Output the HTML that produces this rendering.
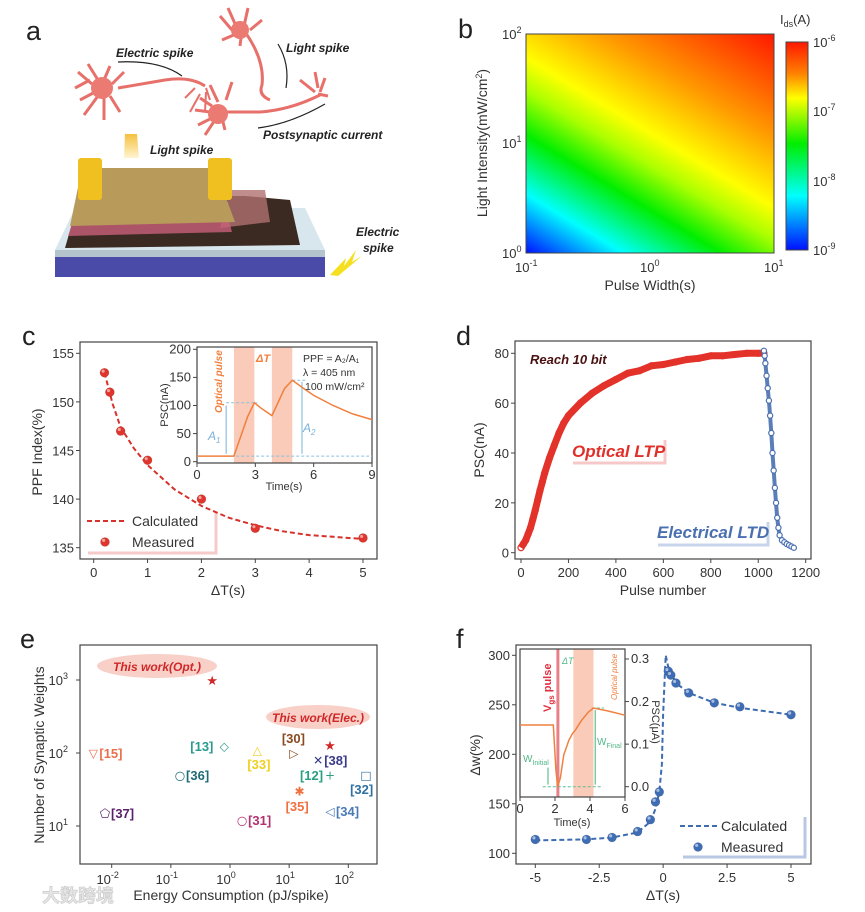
<!DOCTYPE html>
<html><head><meta charset="utf-8"><style>
html,body{margin:0;padding:0;background:#fff;}
svg{display:block;font-family:"Liberation Sans","DejaVu Sans","Noto Sans CJK SC",sans-serif;}
.tk{font-size:13px;fill:#333;}
.lab{font-size:14px;fill:#333;}
.pl{font-size:27px;fill:#222;}
</style></head><body>
<svg id="fig" width="865" height="912" viewBox="0 0 865 912" xmlns="http://www.w3.org/2000/svg">
<defs>
<linearGradient id="hm" gradientUnits="userSpaceOnUse" x1="526" y1="253" x2="689" y2="-17">
<stop offset="0" stop-color="#0010ff"/><stop offset="0.16" stop-color="#00ffff"/><stop offset="0.32" stop-color="#00ee00"/><stop offset="0.44" stop-color="#aaff00"/><stop offset="0.53" stop-color="#ffff00"/><stop offset="0.72" stop-color="#ff9a00"/><stop offset="1" stop-color="#ff1800"/>
</linearGradient>
<linearGradient id="cb" x1="0" y1="0" x2="0" y2="1">
<stop offset="0" stop-color="#ff1800"/><stop offset="0.15" stop-color="#ff8000"/><stop offset="0.27" stop-color="#ffff00"/><stop offset="0.49" stop-color="#00ee00"/><stop offset="0.74" stop-color="#00ffff"/><stop offset="1" stop-color="#0010ff"/>
</linearGradient>
<linearGradient id="beam" x1="0" y1="0" x2="0" y2="1"><stop offset="0" stop-color="#f5c040"/><stop offset="1" stop-color="#fff4d0"/></linearGradient>
</defs>

<g>
<text class="pl" x="26" y="40">a</text>
<g stroke="#e8706a" stroke-width="3" fill="none">
<path d="M75,88 L90,80 M78,72 L92,84 M88,64 L98,80 M110,66 L104,80 M124,72 L112,84 M80,100 L95,92 M84,115 L98,96 M104,120 L104,98 M120,112 L110,96 M118,88 L165,80 Q190,76 205,86"/>
<circle cx="102" cy="88" r="11" fill="#ea7a72" stroke="none"/>
<path d="M185,98 L195,88 M190,112 L200,94 M205,112 L206,92 M210,100 L206,88" stroke-width="2"/>
</g>
<g stroke="#e8706a" stroke-width="3" fill="none">
<path d="M220,16 L232,30 M228,8 L236,26 M248,8 L244,26 M262,20 L250,30 M222,40 L236,34 M240,46 L242,30 M245,32 Q265,60 262,85 Q258,95 270,100"/>
<circle cx="240" cy="30" r="9" fill="#ea7a72" stroke="none"/>
</g>
<g stroke="#e8706a" stroke-width="3" fill="none">
<path d="M195,110 L210,112 M200,98 L212,106 M210,85 L218,102 M232,82 L226,100 M198,125 L212,118 M205,135 L215,120 M225,130 L222,118 M222,112 L260,112 Q290,110 320,95 M300,80 L315,92 M315,72 L318,88 M325,78 L320,92 M328,96 L318,94"/>
<circle cx="218" cy="114" r="10" fill="#ea7a72" stroke="none"/>
</g>
<path d="M118,62 Q160,60 182,76" stroke="#222" stroke-width="1.2" fill="none"/>
<path d="M278,44 Q290,64 286,88" stroke="#222" stroke-width="1.2" fill="none"/>
<path d="M258,128 Q290,124 325,104" stroke="#222" stroke-width="1.2" fill="none"/>
<text x="116" y="57" font-size="12" font-style="italic" font-weight="bold" fill="#222">Electric spike</text>
<text x="286" y="52" font-size="12" font-style="italic" font-weight="bold" fill="#222">Light spike</text>
<text x="263" y="139" font-size="12" font-style="italic" font-weight="bold" fill="#222">Postsynaptic current</text>
<text x="150" y="154" font-size="12" font-style="italic" font-weight="bold" fill="#222">Light spike</text>
<text x="356" y="236" font-size="12" font-style="italic" font-weight="bold" fill="#222">Electric</text>
<text x="363" y="252" font-size="12" font-style="italic" font-weight="bold" fill="#222">spike</text>
<polygon points="125,134 137,134 139,158 124,158" fill="url(#beam)"/>
<polygon points="330,275 346,258 344,266 356,250 352,262 362,256 338,276" fill="#f5e020"/>
<polygon points="55,250 75,208 305,208 325,250" fill="#d8e6ee"/>
<rect x="55" y="250" width="270" height="8" fill="#b4c4cc"/>
<rect x="55" y="257" width="270" height="20" fill="#4a4aa8"/>
<polygon points="65,248 80,196 245,196 290,200 300,245" fill="#3a2a22"/>
<polygon points="220,228 230,190 265,190 270,222" fill="#b07070" opacity="0.8"/>
<polygon points="68,236 78,206 225,206 232,232" fill="#c9607a" opacity="0.8"/>
<polygon points="70,226 82,168 215,168 235,222" fill="#b89a5a"/>
<rect x="78" y="158" width="24" height="42" rx="3" fill="#f0c020"/>
<rect x="208" y="158" width="24" height="42" rx="3" fill="#f0c020"/>
</g>

<g>
<text class="pl" x="458" y="38">b</text>
<rect x="526" y="34" width="248" height="219" fill="url(#hm)" stroke="#444" stroke-width="1"/>
<rect x="786" y="42" width="22" height="208" fill="url(#cb)" stroke="#444" stroke-width="1"/>
<g class="tk" font-size="14">
<text x="813" y="47">10<tspan dy="-6" font-size="9">-6</tspan></text>
<text x="813" y="116">10<tspan dy="-6" font-size="9">-7</tspan></text>
<text x="813" y="186">10<tspan dy="-6" font-size="9">-8</tspan></text>
<text x="813" y="255">10<tspan dy="-6" font-size="9">-9</tspan></text>
<text x="780" y="24" font-size="13">I<tspan dy="3" font-size="9">ds</tspan><tspan dy="-3">(A)</tspan></text>
</g>
<g class="tk">
<text x="515" y="272">10<tspan dy="-6" font-size="9">-1</tspan></text>
<text x="640" y="272">10<tspan dy="-6" font-size="9">0</tspan></text>
<text x="764" y="272">10<tspan dy="-6" font-size="9">1</tspan></text>
<text x="502" y="258">10<tspan dy="-6" font-size="9">0</tspan></text>
<text x="502" y="148">10<tspan dy="-6" font-size="9">1</tspan></text>
<text x="502" y="39">10<tspan dy="-6" font-size="9">2</tspan></text>
</g>
<text class="lab" x="650" y="290" text-anchor="middle">Pulse Width(s)</text>
<text class="lab" transform="translate(487,143) rotate(-90)" text-anchor="middle">Light Intensity(mW/cm<tspan dy="-5" font-size="9">2</tspan><tspan dy="5">)</tspan></text>
</g>

<text class="pl" x="22" y="345">c</text>
<text class="pl" x="456" y="345">d</text>
<text class="pl" x="20" y="648">e</text>
<text class="pl" x="456" y="648">f</text>

<text x="42" y="902" font-size="18" font-weight="bold" fill="#e6e6e6" stroke="#c8c8c8" stroke-width="0.6" font-family="'Noto Sans CJK SC',sans-serif">大数跨境</text>

<g id="gc"></g>
<g id="gd"></g>
<g id="ge"></g>
<g id="gf"></g>
</svg>
<script>
// ---- Panel c data ----
const cDT = [0.2, 0.3, 0.5, 1, 2, 3, 5];
const cPPF = [153, 151, 147, 144, 140, 137, 136];
const cFitX = [0.2, 0.35, 0.5, 0.75, 1, 1.5, 2, 2.5, 3, 3.5, 4, 4.5, 5];
const cFitY = [153, 149.8, 147.4, 145.2, 143.5, 141, 139.3, 138.1, 137.3, 136.7, 136.3, 136.1, 135.9];
const cXTicks = [0, 1, 2, 3, 4, 5];
const cYTicks = [135, 140, 145, 150, 155];
const ciT = [0, 1.5, 1.9, 2.3, 2.6, 2.95, 3.3, 3.85, 4.1, 4.5, 4.9, 5.5, 6, 7, 8, 9];
const ciPSC = [10, 10, 10, 50, 80, 105, 95, 82, 100, 130, 145, 130, 118, 100, 85, 75];
const ciXTicks = [0, 3, 6, 9];
const ciYTicks = [0, 50, 100, 150, 200];
const ciPulses = [[1.9, 2.95], [3.85, 4.9]];
// ---- Panel d data ----
const dLtpN = [0, 10, 20, 30, 40, 50, 60, 70, 80, 90, 100, 120, 140, 160, 180, 200, 250, 300, 350, 400, 450, 500, 550, 600, 650, 700, 750, 800, 850, 900, 950, 1000, 1024];
const dLtpV = [2, 3.5, 5, 7.5, 10, 13.5, 17, 21, 25, 28.5, 32, 38, 43, 48, 52, 55, 60, 64, 67, 69.5, 72, 73, 75, 75.5, 76.5, 77.5, 78, 79, 79, 79.5, 80, 80, 80];
const dLtdN = [1024, 1027, 1030, 1035, 1040, 1045, 1050, 1055, 1060, 1065, 1070, 1075, 1080, 1085, 1090, 1100, 1110, 1120, 1130, 1140, 1150];
const dLtdV = [81, 79, 76, 71, 66, 61, 55, 48, 40, 33, 26, 20, 14, 10, 7, 5, 4.2, 3.5, 3, 2.5, 2];
const dXTicks = [0, 200, 400, 600, 800, 1000, 1200];
const dYTicks = [0, 20, 40, 60, 80];
// ---- Panel e data ----
const eLabels = ['[15]', '[13]', '[36]', '[37]', '[31]', '[33]', '[30]', '[38]', '[12]', '[32]', '[35]', '[34]'];
const eEnergy = [0.0049, 0.8, 0.143, 0.0077, 1.6, 2.9, 12, 31, 49, 200, 15, 49];
const eWeights = [100, 125, 50, 15, 12, 110, 100, 80, 50, 50, 30, 16];
const eMarkers = ['tri-down', 'diamond', 'circle', 'pentagon', 'circle', 'tri-up', 'tri-right', 'x', 'plus', 'square', 'asterisk', 'tri-left'];
const eColors = ['#e8704c', '#2a9a8f', '#1f6b78', '#5a1f6a', '#b03070', '#f0d020', '#8a4a20', '#3a3a8a', '#2aa080', '#3070a0', '#f07040', '#4a7ab8'];
const eThisEnergy = [0.5, 49];
const eThisWeights = [1000, 128];
const eXTicks = [-2, -1, 0, 1, 2];
const eYTicks = [1, 2, 3];
// ---- Panel f data ----
const fDT = [-5, -3, -2, -1, -0.5, -0.3, -0.15, 0.2, 0.3, 0.5, 1, 2, 3, 5];
const fDW = [114, 114, 116, 122, 134, 152, 162, 284, 280, 272, 262, 252, 248, 240];
const fFitX = [-5, -3, -2, -1, -0.5, -0.3, -0.15, -0.05, 0, 0.1, 0.2, 0.5, 1, 2, 3, 5];
const fFitY = [113, 114, 116, 121, 132, 145, 162, 190, 240, 300, 288, 272, 262, 252, 247, 240];
const fXTicks = [-5, -2.5, 0, 2.5, 5];
const fYTicks = [100, 150, 200, 250, 300];
const fiT = [0, 1.9, 2.05, 2.15, 2.3, 2.5, 2.8, 3.0, 3.2, 3.5, 3.9, 4.2, 5, 6];
const fiPSC = [0.145, 0.145, 0.04, 0.0, 0.02, 0.075, 0.11, 0.125, 0.135, 0.155, 0.175, 0.185, 0.178, 0.168];
const fiXTicks = [0, 2, 4, 6];
const fiYTicks = [0.0, 0.1, 0.2, 0.3];

const NS = 'http://www.w3.org/2000/svg';
function mk(parent, tag, attrs, txt) {
  const e = document.createElementNS(NS, tag);
  for (const k in attrs) e.setAttribute(k, attrs[k]);
  if (txt !== undefined) e.textContent = txt;
  parent.appendChild(e);
  return e;
}
function lin(d0, d1, r0, r1) { return v => r0 + (v - d0) * (r1 - r0) / (d1 - d0); }
function pts(xs, ys, sx, sy) { return xs.map((x, i) => sx(x).toFixed(1) + ',' + sy(ys[i]).toFixed(1)).join(' '); }

function frame(g, x0, y0, x1, y1, name) {
  const r = mk(g, 'rect', {x: x0, y: y0, width: x1 - x0, height: y1 - y0, fill: 'none', stroke: '#444', 'stroke-width': 1.2});
  
  
}
function xTicks(g, ticks, sx, yb, fmt, fs, name) {
  ticks.forEach(t => {
    const l = mk(g, 'line', {x1: sx(t), x2: sx(t), y1: yb, y2: yb + 4, stroke: '#444'});
    
    
    const tx = mk(g, 'text', {x: sx(t), y: yb + fs + 4, 'text-anchor': 'middle', class: 'tk', 'font-size': fs}, fmt(t));
    
    
  });
}
function yTicks(g, ticks, sy, xl, fmt, fs, name, right) {
  ticks.forEach(t => {
    const l = mk(g, 'line', {x1: xl, x2: right ? xl + 4 : xl - 4, y1: sy(t), y2: sy(t), stroke: '#444'});
    
    
    const tx = mk(g, 'text', {x: right ? xl + 6 : xl - 6, y: sy(t) + fs * 0.35, 'text-anchor': right ? 'start' : 'end', class: 'tk', 'font-size': fs}, fmt(t));
    
    
  });
}
function ball(g, cx, cy, r, fill, name) {
  const c = mk(g, 'circle', {cx: cx, cy: cy, r: r, fill: fill, stroke: 'rgba(0,0,0,0.15)', 'stroke-width': 0.6});
  
  
  const h = mk(g, 'circle', {cx: cx - r * 0.3, cy: cy - r * 0.35, r: r * 0.35, fill: 'rgba(255,255,255,0.55)'});
  
  
}

// ===== Panel c =====
(function () {
  const g = document.getElementById('gc');
  const sx = lin(0, 5, 93.7, 363), sy = lin(135, 155, 547.7, 353.3);
  frame(g, 80, 342, 377, 559, 'plot-frame-c');
  xTicks(g, cXTicks, sx, 559, t => t, 14, 'x-axis-c');
  yTicks(g, cYTicks, sy, 80, t => t, 14, 'y-axis-c');
  const yl = mk(g, 'text', {class: 'lab', transform: 'translate(42,452) rotate(-90)', 'text-anchor': 'middle', 'font-size': 15}, 'PPF Index(%)');
  
  
  const xl = mk(g, 'text', {class: 'lab', x: 228, y: 595, 'text-anchor': 'middle', 'font-size': 15}, 'ΔT(s)');
  
  
  const lb = mk(g, 'polyline', {points: '88,553 216,553 216,513', fill: 'none', stroke: '#f4caca', 'stroke-width': 3});
  
  
  const fit = mk(g, 'polyline', {points: pts(cFitX, cFitY, sx, sy), fill: 'none', stroke: '#d8302a', 'stroke-width': 2, 'stroke-dasharray': '5,3'});
  
  
  cDT.forEach((d, i) => ball(g, sx(d), sy(cPPF[i]), 4.5, '#e0352c', 'measured-point-c'));
  const ll = mk(g, 'line', {x1: 87, x2: 125, y1: 521, y2: 521, stroke: '#d8302a', 'stroke-width': 2, 'stroke-dasharray': '5,3'});
  
  
  const lt = mk(g, 'text', {x: 132, y: 526, class: 'lab', 'font-size': 14}, 'Calculated');
  
  
  ball(g, 105, 542, 4.5, '#e0352c', 'legend-marker-measured-c');
  const lt2 = mk(g, 'text', {x: 132, y: 547, class: 'lab', 'font-size': 14}, 'Measured');
  
  

  const ix = lin(0, 9, 197, 372), iy = lin(0, 200, 461.7, 349.3);
  const bg = mk(g, 'rect', {x: 197, y: 347, width: 175, height: 116, fill: '#fff'});
  
  
  ciPulses.forEach(p => {
    const r = mk(g, 'rect', {x: ix(p[0]), y: 347, width: ix(p[1]) - ix(p[0]), height: 116, fill: '#f9cbb8'});
    
    
  });
  frame(g, 197, 347, 372, 463, 'inset-frame-c');
  xTicks(g, ciXTicks, ix, 463, t => t, 12, 'inset-x-axis-c');
  yTicks(g, ciYTicks, iy, 197, t => t, 12, 'inset-y-axis-c');
  const dash1 = mk(g, 'polyline', {points: `${ix(1.5)},${iy(10)} ${ix(9)},${iy(10)}`, stroke: '#8ec0e0', 'stroke-dasharray': '3,2', fill: 'none'});
  
  
  const dash2 = mk(g, 'line', {x1: ix(1.5), x2: ix(3.1), y1: iy(105), y2: iy(105), stroke: '#8ec0e0', 'stroke-dasharray': '3,2'});
  
  
  const dash3 = mk(g, 'line', {x1: ix(4.9), x2: ix(5.6), y1: iy(145), y2: iy(145), stroke: '#8ec0e0', 'stroke-dasharray': '3,2'});
  
  
  const a1 = mk(g, 'line', {x1: ix(1.5), x2: ix(1.5), y1: iy(100), y2: iy(14), stroke: '#8ec0e0', 'stroke-width': 1.2});
  
  
  const a2 = mk(g, 'line', {x1: ix(5.4), x2: ix(5.4), y1: iy(142), y2: iy(14), stroke: '#8ec0e0', 'stroke-width': 1.2});
  
  
  const curve = mk(g, 'polyline', {points: pts(ciT, ciPSC, ix, iy), fill: 'none', stroke: '#f08040', 'stroke-width': 1.5});
  
  
  const t1 = mk(g, 'text', {x: 208, y: 440, 'font-size': 12, 'font-style': 'italic', fill: '#7ab0d8'});
  
  
  t1.innerHTML = 'A<tspan dy="3" font-size="8">1</tspan>';
  const t2 = mk(g, 'text', {x: 303, y: 432, 'font-size': 12, 'font-style': 'italic', fill: '#7ab0d8'});
  
  
  t2.innerHTML = 'A<tspan dy="3" font-size="8">2</tspan>';
  const op = mk(g, 'text', {transform: 'translate(222,413) rotate(-90)', 'font-size': 10, 'font-style': 'italic', 'font-weight': 'bold', fill: '#f08040'}, 'Optical pulse');
  
  
  const dt = mk(g, 'text', {x: 256, y: 362, 'font-size': 11, 'font-style': 'italic', 'font-weight': 'bold', fill: '#f08040'}, 'ΔT');
  
  
  const i1 = mk(g, 'text', {x: 303, y: 362, 'font-size': 10.5, fill: '#333'}, 'PPF = A₂/A₁');
  
  
  const i2 = mk(g, 'text', {x: 303, y: 376, 'font-size': 10.5, fill: '#333'}, 'λ = 405 nm');
  
  
  const i3 = mk(g, 'text', {x: 305, y: 390, 'font-size': 10.5, fill: '#333'}, '100 mW/cm²');
  
  
  const ixl = mk(g, 'text', {x: 284, y: 490, 'text-anchor': 'middle', 'font-size': 11, fill: '#333'}, 'Time(s)');
  
  
  const iyl = mk(g, 'text', {transform: 'translate(168,405) rotate(-90)', 'text-anchor': 'middle', 'font-size': 11, fill: '#333'}, 'PSC(nA)');
  
  
})();

// ===== Panel d =====
(function () {
  const g = document.getElementById('gd');
  const sx = lin(0, 1200, 521, 805.7), sy = lin(0, 80, 552.7, 353.3);
  frame(g, 515, 341, 811, 559, 'plot-frame-d');
  xTicks(g, dXTicks, sx, 559, t => t, 14, 'x-axis-d');
  yTicks(g, dYTicks, sy, 515, t => t, 14, 'y-axis-d');
  const yl = mk(g, 'text', {class: 'lab', transform: 'translate(484,450) rotate(-90)', 'text-anchor': 'middle', 'font-size': 15}, 'PSC(nA)');
  
  
  const xl = mk(g, 'text', {class: 'lab', x: 663, y: 595, 'text-anchor': 'middle', 'font-size': 15}, 'Pulse number');
  
  
  const b1 = mk(g, 'polyline', {points: '573,463 665,463 665,440', fill: 'none', stroke: '#f6c8c8', 'stroke-width': 3});
  
  
  const b2 = mk(g, 'polyline', {points: '658,545 768,545 768,522', fill: 'none', stroke: '#c8d4ec', 'stroke-width': 3});
  
  
  const band = mk(g, 'polyline', {points: pts(dLtpN, dLtpV, sx, sy), fill: 'none', stroke: '#e3322a', 'stroke-width': 7, 'stroke-linejoin': 'round'});
  
  
  dLtpN.forEach((n, i) => {
    const c = mk(g, 'circle', {cx: sx(n), cy: sy(dLtpV[i]), r: 3, fill: 'none', stroke: '#e3322a', 'stroke-width': 1.2});
    
    
  });
  const band2 = mk(g, 'polyline', {points: pts(dLtdN, dLtdV, sx, sy), fill: 'none', stroke: '#4a70b0', 'stroke-width': 4, 'stroke-linejoin': 'round', opacity: 0.9});
  
  
  dLtdN.forEach((n, i) => {
    const c = mk(g, 'circle', {cx: sx(n), cy: sy(dLtdV[i]), r: 2.6, fill: '#fff', stroke: '#4a70b0', 'stroke-width': 1.2});
    
    
  });
  const t1 = mk(g, 'text', {x: 530, y: 364, 'font-size': 13, 'font-style': 'italic', 'font-weight': 'bold', fill: '#4a1010'}, 'Reach 10 bit');
  
  
  const t2 = mk(g, 'text', {x: 572, y: 457, 'font-size': 17, 'font-style': 'italic', 'font-weight': 'bold', fill: '#e0302a'}, 'Optical LTP');
  
  
  const t3 = mk(g, 'text', {x: 657, y: 538, 'font-size': 17, 'font-style': 'italic', 'font-weight': 'bold', fill: '#4a70b0'}, 'Electrical LTD');
  
  
})();

// ===== Panel e =====
(function () {
  const g = document.getElementById('ge');
  const lx = lin(-2, 2, 111.7, 348.3), ly = lin(1, 3, 826, 680);
  const sx = v => lx(Math.log10(v)), sy = v => ly(Math.log10(v));
  frame(g, 80, 645, 377, 864, 'plot-frame-e');
  eXTicks.forEach(t => {
    const l = mk(g, 'line', {x1: lx(t), x2: lx(t), y1: 864, y2: 868, stroke: '#444'});
    
    
    const tx = mk(g, 'text', {x: lx(t) - 4, y: 884, 'text-anchor': 'middle', class: 'tk', 'font-size': 14});
    
    
    tx.innerHTML = '10<tspan dy="-6" font-size="9">' + t + '</tspan>';
  });
  eYTicks.forEach(t => {
    const l = mk(g, 'line', {x1: 80, x2: 76, y1: ly(t), y2: ly(t), stroke: '#444'});
    
    
    const tx = mk(g, 'text', {x: 68, y: ly(t) + 5, 'text-anchor': 'end', class: 'tk', 'font-size': 14});
    
    
    tx.innerHTML = '10<tspan dy="-6" font-size="9">' + t + '</tspan>';
  });
  const yl = mk(g, 'text', {class: 'lab', transform: 'translate(44,755) rotate(-90)', 'text-anchor': 'middle', 'font-size': 15}, 'Number of Synaptic Weights');
  
  
  const xl = mk(g, 'text', {class: 'lab', x: 231, y: 900, 'text-anchor': 'middle', 'font-size': 15}, 'Energy Consumption (pJ/spike)');
  
  
  const e1 = mk(g, 'ellipse', {cx: 157, cy: 666, rx: 60, ry: 12, fill: '#f8d0c8'});
  
  
  const e2 = mk(g, 'ellipse', {cx: 318, cy: 717, rx: 52, ry: 12, fill: '#f8d0c8'});
  
  
  const t1 = mk(g, 'text', {x: 157, y: 671, 'text-anchor': 'middle', 'font-size': 12, 'font-style': 'italic', 'font-weight': 'bold', fill: '#d02828'}, 'This work(Opt.)');
  
  
  const t2 = mk(g, 'text', {x: 318, y: 722, 'text-anchor': 'middle', 'font-size': 12, 'font-style': 'italic', 'font-weight': 'bold', fill: '#d02828'}, 'This work(Elec.)');
  
  
  eThisEnergy.forEach((v, i) => {
    const s = mk(g, 'text', {x: sx(v), y: sy(eThisWeights[i]) + 5, 'text-anchor': 'middle', 'font-size': 13, fill: '#d02828'}, '★');
    
    
  });
  const glyph = {'tri-down': '▽', 'diamond': '◇', 'circle': '○', 'pentagon': '⬠', 'tri-up': '△', 'tri-right': '▷', 'x': '✕', 'plus': '+', 'square': '□', 'asterisk': '✱', 'tri-left': '◁'};
  const lOff = {'[15]': [6, 5], '[13]': [-34, 5], '[36]': [6, 5], '[37]': [6, 5], '[31]': [6, 5], '[33]': [-10, 19], '[30]': [-12, -10], '[38]': [6, 5], '[12]': [-30, 5], '[32]': [-16, 19], '[35]': [-14, 20], '[34]': [6, 5]};
  eLabels.forEach((lab, i) => {
    const x = sx(eEnergy[i]), y = sy(eWeights[i]);
    const m = mk(g, 'text', {x: x, y: y + 4.5, 'text-anchor': 'middle', 'font-size': 12, fill: eColors[i], 'font-family': 'DejaVu Sans, sans-serif'}, glyph[eMarkers[i]]);
    
    
    const o = lOff[lab];
    const t = mk(g, 'text', {x: x + o[0], y: y + o[1], 'font-size': 13, 'font-weight': 'bold', fill: eColors[i]}, lab);
    
    
  });
})();

// ===== Panel f =====
(function () {
  const g = document.getElementById('gf');
  const sx = lin(-5, 5, 535.3, 791), sy = lin(100, 300, 853.3, 655.3);
  frame(g, 516, 645, 811, 864, 'plot-frame-f');
  xTicks(g, fXTicks, sx, 864, t => t, 14, 'x-axis-f');
  yTicks(g, fYTicks, sy, 516, t => t, 14, 'y-axis-f');
  const yl = mk(g, 'text', {class: 'lab', transform: 'translate(480,755) rotate(-90)', 'text-anchor': 'middle', 'font-size': 15}, 'Δw(%)');
  
  
  const xl = mk(g, 'text', {class: 'lab', x: 663, y: 900, 'text-anchor': 'middle', 'font-size': 15}, 'ΔT(s)');
  
  
  const lb = mk(g, 'polyline', {points: '683,857 805,857 805,817', fill: 'none', stroke: '#b8c8e4', 'stroke-width': 3});
  
  
  const fit = mk(g, 'polyline', {points: pts(fFitX, fFitY, sx, sy), fill: 'none', stroke: '#3d6cb0', 'stroke-width': 2, 'stroke-dasharray': '5,3'});
  
  
  fDT.forEach((d, i) => ball(g, sx(d), sy(fDW[i]), 4.5, '#3f6db5', 'measured-point-f'));
  const ll = mk(g, 'line', {x1: 680, x2: 718, y1: 826, y2: 826, stroke: '#3d6cb0', 'stroke-width': 2, 'stroke-dasharray': '5,3'});
  
  
  const lt = mk(g, 'text', {x: 721, y: 831, class: 'lab', 'font-size': 14}, 'Calculated');
  
  
  ball(g, 698, 847, 4.5, '#3f6db5', 'legend-marker-measured-f');
  const lt2 = mk(g, 'text', {x: 721, y: 852, class: 'lab', 'font-size': 14}, 'Measured');
  
  

  const ix = lin(0, 6, 520, 625), iy = lin(0, 0.3, 786.7, 659);
  const bg = mk(g, 'rect', {x: 520, y: 649, width: 105, height: 148, fill: '#fff'});
  
  
  const sh = mk(g, 'rect', {x: ix(3.05), y: 649, width: ix(4.2) - ix(3.05), height: 148, fill: '#f9cbb8'});
  
  
  const vg = mk(g, 'rect', {x: ix(2.08), y: 649, width: 3, height: 148, fill: '#e88088'});
  
  
  frame(g, 520, 649, 625, 797, 'inset-frame-f');
  xTicks(g, fiXTicks, ix, 797, t => t, 12, 'inset-x-axis-f');
  yTicks(g, fiYTicks, iy, 625, t => t.toFixed(1), 12, 'inset-y-axis-f', true);
  const gd1 = mk(g, 'line', {x1: ix(1.3), x2: ix(4.7), y1: iy(0), y2: iy(0), stroke: '#60c090', 'stroke-dasharray': '3,2'});
  
  
  const gd2 = mk(g, 'line', {x1: ix(4.1), x2: ix(4.8), y1: iy(0.185), y2: iy(0.185), stroke: '#60c090', 'stroke-dasharray': '3,2'});
  
  
  const wa = mk(g, 'line', {x1: ix(4.3), x2: ix(4.3), y1: iy(0.18), y2: iy(0.005), stroke: '#60c090', 'stroke-width': 1.2});
  
  
  const wi = mk(g, 'line', {x1: ix(1.6), x2: ix(1.6), y1: iy(0.045), y2: iy(0.005), stroke: '#60c090', 'stroke-width': 1.2});
  
  
  const curve = mk(g, 'polyline', {points: pts(fiT, fiPSC, ix, iy), fill: 'none', stroke: '#f08040', 'stroke-width': 1.5});
  
  
  const t1 = mk(g, 'text', {x: 523, y: 762, 'font-size': 10, fill: '#50b888'});
  
  
  t1.innerHTML = 'W<tspan dy="3" font-size="7">Initial</tspan>';
  const t2 = mk(g, 'text', {x: 597, y: 745, 'font-size': 10, fill: '#50b888'});
  
  
  t2.innerHTML = 'W<tspan dy="3" font-size="7">Final</tspan>';
  const t3 = mk(g, 'text', {transform: 'translate(551,712) rotate(-90)', 'font-size': 11, 'font-weight': 'bold', fill: '#e03040'});
  
  
  t3.innerHTML = 'V<tspan dy="3" font-size="8">gs</tspan><tspan dy="-3"> pulse</tspan>';
  const t4 = mk(g, 'text', {transform: 'translate(617,700) rotate(-90)', 'font-size': 8, 'font-style': 'italic', fill: '#f08040'}, 'Optical pulse');
  
  
  const t5 = mk(g, 'text', {x: 562, y: 664, 'font-size': 9, 'font-style': 'italic', fill: '#50b888'}, 'ΔT');
  
  
  const ixl = mk(g, 'text', {x: 572, y: 826, 'text-anchor': 'middle', 'font-size': 11, fill: '#333'}, 'Time(s)');
  
  
  const iyl = mk(g, 'text', {transform: 'translate(652,722) rotate(90)', 'text-anchor': 'middle', 'font-size': 11, fill: '#333'}, 'PSC(μA)');
  
  
})();
</script>
</body></html>
